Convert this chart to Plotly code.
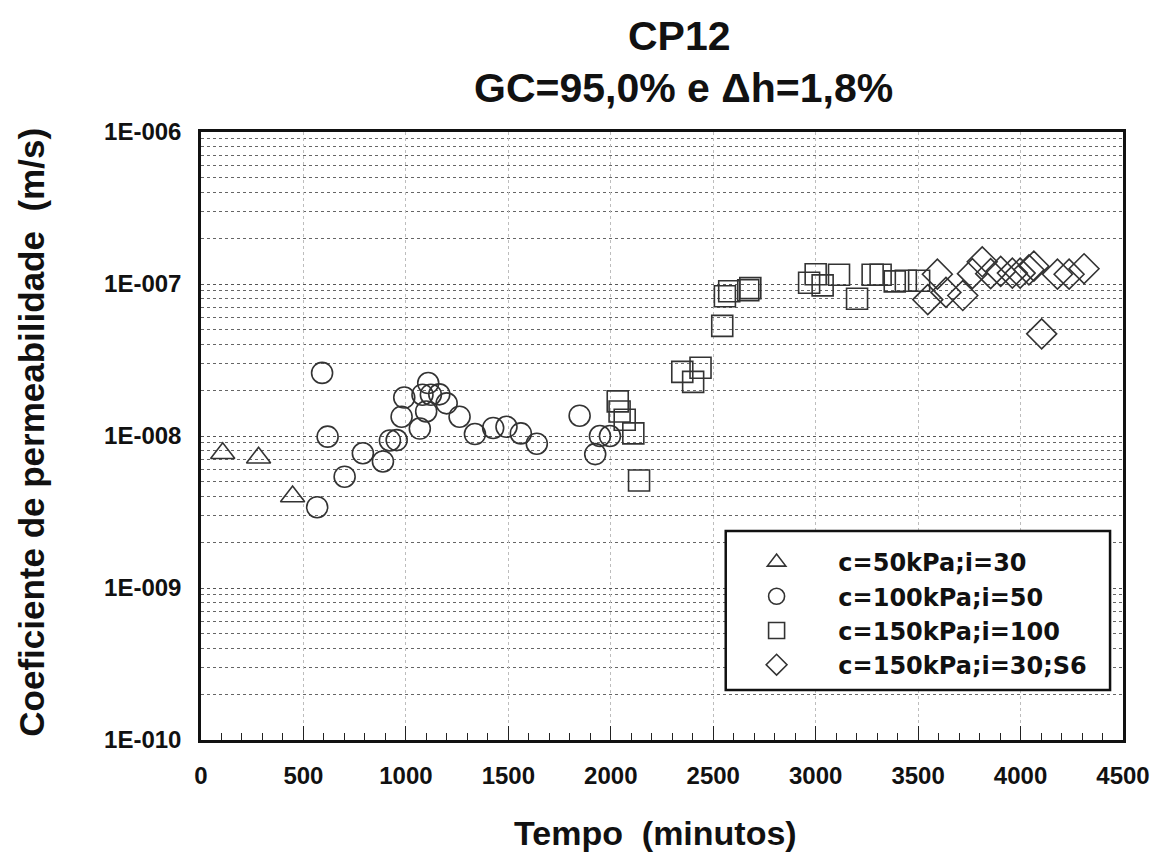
import plotly.graph_objects as go

# ---- data ----
tri_x = [106, 281, 447]
tri_y = [7.7e-9, 7.2e-9, 4.0e-9]

circ_x = [567, 591, 618, 701, 790, 888, 922, 955, 979, 992, 1068, 1081, 1099, 1109,
          1122, 1163, 1199, 1262, 1337, 1426, 1491, 1561, 1639, 1848, 1924, 1947, 1996]
circ_y = [3.4e-9, 2.6e-8, 9.9e-9, 5.4e-9, 7.7e-9, 6.8e-9, 9.35e-9, 9.4e-9, 1.34e-8,
          1.79e-8, 1.12e-8, 1.87e-8, 1.45e-8, 2.23e-8, 1.87e-8, 1.88e-8, 1.64e-8,
          1.34e-8, 1.03e-8, 1.13e-8, 1.15e-8, 1.04e-8, 8.9e-9, 1.36e-8, 7.6e-9,
          1.0e-8, 1.0e-8]

sq_x = [2034, 2043, 2068, 2110, 2138, 2349, 2402, 2438, 2544, 2557, 2578, 2671, 2681,
        2968, 3000, 3034, 3114, 3202, 3278, 3317, 3386, 3440, 3505]
sq_y = [1.69e-8, 1.45e-8, 1.28e-8, 1.04e-8, 5.1e-9, 2.64e-8, 2.27e-8, 2.81e-8, 5.3e-8,
        8.3e-8, 8.97e-8, 9.1e-8, 9.4e-8, 1.02e-7, 1.16e-7, 9.8e-8, 1.15e-7, 8.0e-8,
        1.15e-7, 1.15e-7, 1.04e-7, 1.05e-7, 1.05e-7]

dia_x = [3547, 3594, 3636, 3718, 3765, 3813, 3854, 3903, 3960, 3998, 4041, 4065, 4103,
         4180, 4237, 4310]
dia_y = [7.9e-8, 1.16e-7, 8.8e-8, 8.4e-8, 1.17e-7, 1.4e-7, 1.17e-7, 1.21e-7, 1.18e-7,
         1.18e-7, 1.24e-7, 1.31e-7, 4.7e-8, 1.16e-7, 1.16e-7, 1.26e-7]

series_names = ["c=50kPa;i=30", "c=100kPa;i=50", "c=150kPa;i=100", "c=150kPa;i=30;S6"]
y_tickvals = [1e-10, 1e-9, 1e-8, 1e-7, 1e-6]
y_ticktext = ["1E-010", "1E-009", "1E-008", "1E-007", "1E-006"]
x_tickvals = [0, 500, 1000, 1500, 2000, 2500, 3000, 3500, 4000, 4500]

title1 = "CP12"
title2 = "GC=95,0% e \u0394h=1,8%"
xtitle = "Tempo\u00a0\u00a0(minutos)"
ytitle = "Coeficiente de permeabilidade\u00a0\u00a0(m/s)"

# ---- figure ----
W, H = 1162, 860
L, R, T, B = 201, 1127, 132, 740
pw, ph = R - L, B - T

def px_x(p):
    return (p - L) / pw

def px_y(p):
    return (B - p) / ph

ink = "#333333"
font_b = "Liberation Sans, Arial, sans-serif"
font_leg = "DejaVu Sans, Liberation Sans, sans-serif"
pad = "\u00a0" * 5

fig = go.Figure()
specs = [
    (tri_x, tri_y, "triangle-up-open", 21),
    (circ_x, circ_y, "circle-open", 21),
    (sq_x, sq_y, "square-open", 21),
    (dia_x, dia_y, "diamond-open", 23),
]
for (xs, ys, sym, sz), name in zip(specs, series_names):
    fig.add_trace(go.Scatter(
        x=xs, y=ys, mode="markers", name=pad + name,
        marker=dict(symbol=sym, size=sz, color=ink, line=dict(width=1.6, color=ink)),
    ))

fig.update_layout(
    width=W, height=H,
    margin=dict(l=L, r=W - R, t=T, b=H - B),
    paper_bgcolor="white", plot_bgcolor="white",
    showlegend=True,
    legend=dict(
        x=px_x(759), y=px_y(540), xanchor="left", yanchor="top",
        bgcolor="rgba(0,0,0,0)", borderwidth=0,
        font=dict(family=font_leg, size=24, color="#111", weight="bold"),
        itemclick=False,
    ),
    shapes=[dict(
        type="rect", xref="paper", yref="paper",
        x0=px_x(728), x1=px_x(1114), y0=px_y(690), y1=px_y(531),
        line=dict(color="#111", width=2.5), fillcolor="white", layer="above",
    )],
    annotations=[
        dict(text="<b>" + title1 + "</b>", xref="paper", yref="paper",
             x=px_x(682), y=px_y(36), xanchor="center", yanchor="middle",
             showarrow=False, font=dict(family=font_b, size=41, color="#111")),
        dict(text="<b>" + title2 + "</b>", xref="paper", yref="paper",
             x=px_x(686), y=px_y(88), xanchor="center", yanchor="middle",
             showarrow=False, font=dict(family=font_b, size=41, color="#111")),
        dict(text="<b>" + xtitle + "</b>", xref="paper", yref="paper",
             x=px_x(657), y=px_y(833), xanchor="center", yanchor="middle",
             showarrow=False, font=dict(family=font_b, size=34, color="#111")),
        dict(text="<b>" + ytitle + "</b>", xref="paper", yref="paper",
             x=px_x(30), y=px_y(432), xanchor="center", yanchor="middle",
             textangle=-90, showarrow=False,
             font=dict(family=font_b, size=35, color="#111")),
    ],
)

fig.update_xaxes(
    range=[0, 4500], tickvals=x_tickvals,
    ticks="inside", ticklen=14, tickwidth=1.2, tickcolor="#222",
    tickfont=dict(family=font_b, size=24, color="#111", weight="bold"),
    ticklabelstandoff=12,
    showgrid=True, gridcolor="#bdbdbd", griddash="dot", gridwidth=1,
    minor=dict(dtick=100, ticks="inside", ticklen=7, tickwidth=1, tickcolor="#222",
               showgrid=False),
    showline=True, linecolor="#111", linewidth=2.5, mirror=True,
    zeroline=False,
)
fig.update_yaxes(
    type="log", range=[-10, -6], tickvals=y_tickvals, ticktext=y_ticktext,
    ticks="", tickfont=dict(family=font_b, size=24, color="#111", weight="bold"),
    ticklabelstandoff=12,
    showgrid=True, gridcolor="#555", griddash="dot", gridwidth=1.2,
    minor=dict(dtick="D1", showgrid=True, gridcolor="#666", griddash="dot",
               gridwidth=1.2, ticks=""),
    showline=True, linecolor="#111", linewidth=2.5, mirror=True,
    zeroline=False,
)

fig.write_html("out.html")
